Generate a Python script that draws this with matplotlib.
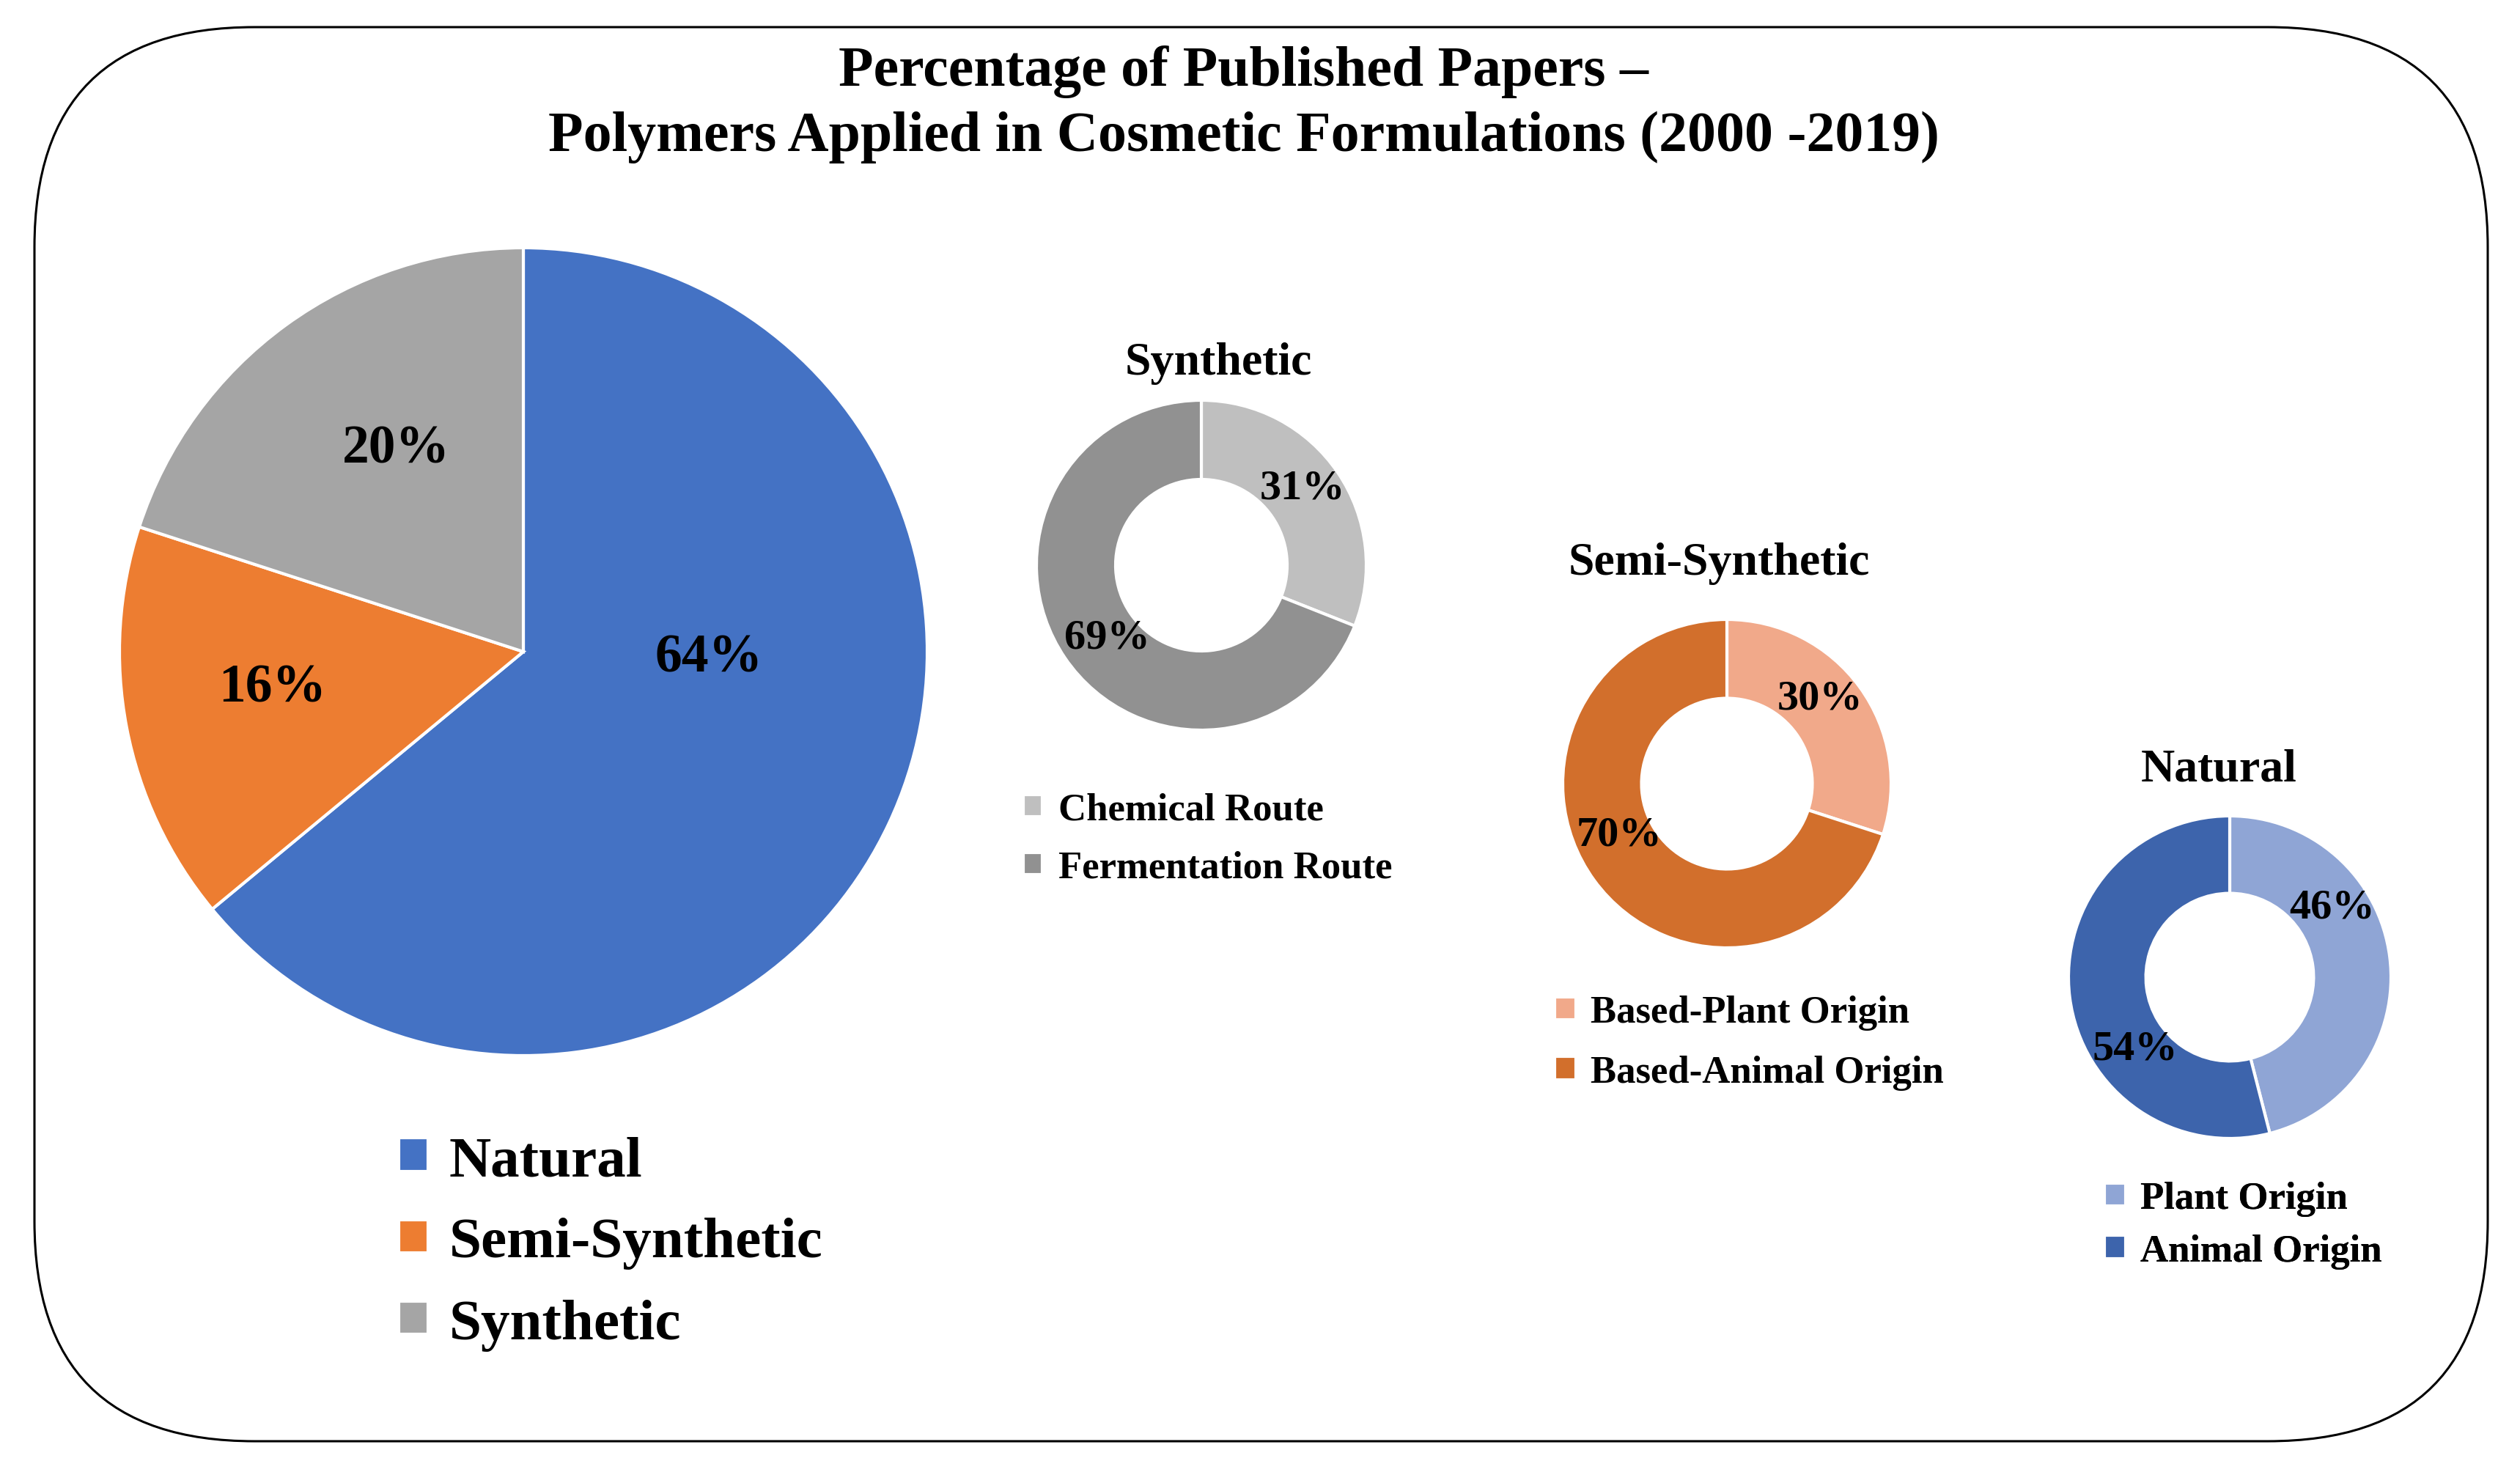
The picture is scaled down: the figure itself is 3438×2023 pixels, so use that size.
import matplotlib
matplotlib.use('Agg')
import matplotlib.pyplot as plt
from matplotlib.patches import FancyBboxPatch

# ---------------- data ----------------
main_labels = ['Natural', 'Semi-Synthetic', 'Synthetic']
main_values = [64, 16, 20]
main_colors = ['#4472C4', '#ED7D31', '#A5A5A5']

synth_labels = ['Chemical Route', 'Fermentation Route']
synth_values = [31, 69]
synth_colors = ['#BFBFBF', '#919191']

semi_labels = ['Based-Plant Origin', 'Based-Animal Origin']
semi_values = [30, 70]
semi_colors = ['#F1A98A', '#D26F2C']

nat_labels = ['Plant Origin', 'Animal Origin']
nat_values = [46, 54]
nat_colors = ['#8FA5D5', '#3D64AC']

title_lines = ['Percentage of Published Papers \u2013',
               'Polymers Applied in Cosmetic Formulations (2000 -2019)']

# ---------------- figure ----------------
W, H = 3438, 2024
FONT = ['Liberation Serif', 'DejaVu Serif']
fig = plt.figure(figsize=(W / 100, H / 100), dpi=100)
ax = fig.add_axes([0, 0, 1, 1])


def draw_pie(values, colors, center, radius, offsets, fsize, width=None):
    wp = dict(edgecolor='white', linewidth=3)
    if width is not None:
        wp['width'] = width * radius
    wedges, _, autotexts = ax.pie(values, colors=colors, startangle=90,
                                  counterclock=False, center=center,
                                  radius=radius, autopct='%d%%',
                                  wedgeprops=wp)
    for t, (dx, dy) in zip(autotexts, offsets):
        t.set_position((center[0] + dx * radius, center[1] + dy * radius))
        t.set_fontfamily(FONT)
        t.set_fontweight('bold')
        t.set_fontsize(fsize)
        t.set_color('black')
        t.set_ha('center')
        t.set_va('center')
    return wedges


# main pie
w_main = draw_pie(main_values, main_colors, (714, 1134), 551,
                  [(0.459, -0.016), (-0.622, -0.089), (-0.316, 0.501)], 53)
# donuts
w_syn = draw_pie(synth_values, synth_colors, (1639, 1252), 225,
                 [(0.613, 0.471), (-0.573, -0.436)], 42, width=0.48)
w_semi = draw_pie(semi_values, semi_colors, (2356, 954), 224,
                  [(0.567, 0.522), (-0.656, -0.312)], 42, width=0.48)
w_nat = draw_pie(nat_values, nat_colors, (3042, 690), 220,
                 [(0.636, 0.436), (-0.586, -0.441)], 42, width=0.48)

# donut titles
for txt, x, y in [('Synthetic', 1662, 1513), ('Semi-Synthetic', 2345, 1240),
                  ('Natural', 3027, 958)]:
    ax.text(x, y, txt, ha='center', va='baseline', fontsize=46,
            fontweight='bold', family=FONT)

# main title
ax.text(1697, 1907, title_lines[0], ha='center', va='baseline', fontsize=56,
        fontweight='bold', family=FONT)
ax.text(1697, 1818, title_lines[1], ha='center', va='baseline', fontsize=56,
        fontweight='bold', family=FONT)


def add_legend(handles, labels, x, y, fsize, hl, pad, spacing):
    leg = ax.legend(handles, labels, loc='center left', bbox_to_anchor=(x, y),
                    bbox_transform=ax.transData, frameon=False, borderpad=0,
                    borderaxespad=0, handlelength=hl, handleheight=hl,
                    handletextpad=pad, labelspacing=spacing,
                    prop=dict(family=FONT, weight='bold', size=fsize))
    ax.add_artist(leg)
    return leg


add_legend(w_main, main_labels, 544, 327, 57, 0.5, 0.37, 0.51)
add_legend(w_syn, synth_labels, 1396, 879, 38, 0.5, 0.4, 0.58)
add_legend(w_semi, semi_labels, 2121, 601, 38, 0.55, 0.38, 0.64)
add_legend(w_nat, nat_labels, 2871, 352, 38, 0.55, 0.38, 0.45)

# rounded frame
frame = FancyBboxPatch((47, 57), 3347, 1929,
                       boxstyle='round,pad=0,rounding_size=300',
                       facecolor='none', edgecolor='black', linewidth=2.2,
                       zorder=0)
ax.add_patch(frame)

ax.set_xlim(0, W)
ax.set_ylim(0, H)
ax.set_aspect('auto')
ax.axis('off')

fig.savefig('out.png', dpi=100, facecolor='white')
